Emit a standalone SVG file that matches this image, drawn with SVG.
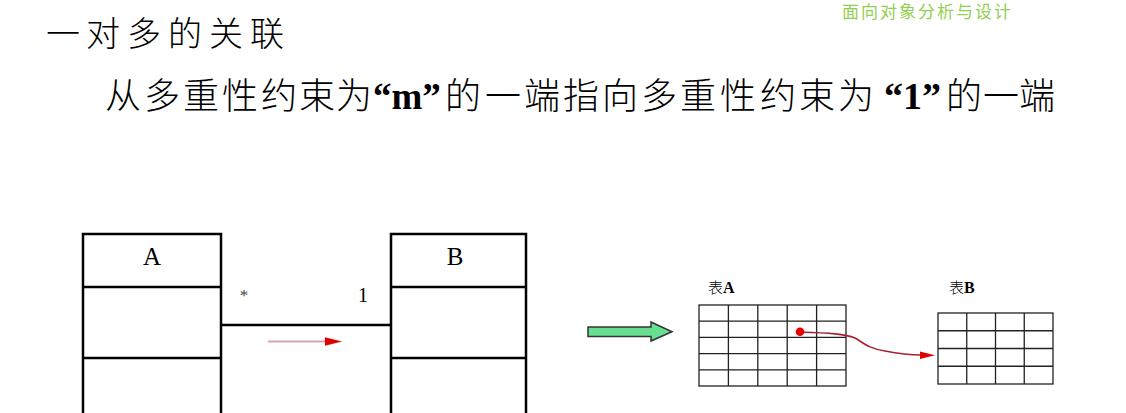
<svg xmlns="http://www.w3.org/2000/svg" width="1126" height="413" viewBox="0 0 1126 413">
<defs>
<style>
.cjk{font-family:"Noto Sans CJK SC","Noto Sans",sans-serif;fill:#000;font-weight:300}
.ser{font-family:"Liberation Serif","Noto Sans CJK SC",serif;fill:#000}
.bold{font-weight:bold}
.box{fill:#fff;stroke:#000;stroke-width:2.5}
.grid{fill:none;stroke:#222;stroke-width:1.3}
</style>
</defs>
<rect width="1126" height="413" fill="#fff"/>
<g id="header">
<text class="cjk" x="842" y="18" font-size="17" letter-spacing="2" style="fill:#92D050;font-weight:400">面向对象分析与设计</text>
</g>
<g id="title">
<text class="cjk" font-size="34" y="46" x="46 86 127 168 209 250">一对多的关联</text>
</g>
<g id="subtitle">
<text class="cjk" font-size="36" y="109" x="105 144 183 222 261 299 336">从多重性约束为</text>
<text class="ser bold" font-size="37" y="109" x="373">“m”</text>
<text class="cjk" font-size="36" y="109" x="445 485 524 563 602 641 680 720 760 799 838">的一端指向多重性约束为</text>
<text class="ser bold" font-size="38" y="109" x="884">“1”</text>
<text class="cjk" font-size="36" y="109" x="946 983 1019">的一端</text>
</g>
<g id="classA">
<rect class="box" x="83" y="234" width="138" height="182"/>
<line x1="83" y1="287" x2="221" y2="287" stroke="#000" stroke-width="2.5"/>
<line x1="83" y1="358" x2="221" y2="358" stroke="#000" stroke-width="2.5"/>
<text class="ser" x="152" y="265" font-size="25" text-anchor="middle">A</text>
</g>
<g id="classB">
<rect class="box" x="391" y="234" width="135" height="182"/>
<line x1="391" y1="287" x2="526" y2="287" stroke="#000" stroke-width="2.5"/>
<line x1="391" y1="358" x2="526" y2="358" stroke="#000" stroke-width="2.5"/>
<text class="ser" x="455" y="265" font-size="25" text-anchor="middle">B</text>
</g>
<g id="tableA">
<text x="708" y="293" font-size="16"><tspan class="cjk" font-size="15">表</tspan><tspan class="ser bold">A</tspan></text>
<rect class="grid" x="699" y="305" width="147" height="81"/>
<path class="grid" d="M728.4,305V386M757.8,305V386M787.2,305V386M816.6,305V386M699,321.2H846M699,337.4H846M699,353.6H846M699,369.8H846"/>
</g>
<g id="tableB">
<text x="949" y="293" font-size="16"><tspan class="cjk" font-size="15">表</tspan><tspan class="ser bold">B</tspan></text>
<rect class="grid" x="938" y="313" width="115" height="71"/>
<path class="grid" d="M966.75,313V384M995.5,313V384M1024.25,313V384M938,330.75H1053M938,348.5H1053M938,366.25H1053"/>
</g>
<g id="connectors">
<line x1="221" y1="325" x2="391" y2="325" stroke="#000" stroke-width="2.5"/>
<text class="ser" x="244" y="301" font-size="17" text-anchor="middle" style="fill:#444">*</text>
<text class="ser" x="363" y="302" font-size="20" text-anchor="middle">1</text>
<line x1="268" y1="341.5" x2="327" y2="341.5" stroke="#d9a3ab" stroke-width="2"/>
<path d="M325,337.3 L342,341.5 L325,345.7 Z" fill="#e00000"/>
<path d="M588,327 H651 V322 L672,331.7 L651,341 V336.5 H588 Z" fill="#66e090" stroke="#333" stroke-width="1.5"/>
<path d="M800,332 C830,333 845,334 855,338 C864,343 867,348 885,351 C900,354 912,355 922,355" fill="none" stroke="#a82030" stroke-width="1.6"/>
<path d="M920,351.5 L935,355.3 L920,359 Z" fill="#e00000"/>
<circle cx="800" cy="331.7" r="4.3" fill="#e80000"/>
</g>
</svg>
